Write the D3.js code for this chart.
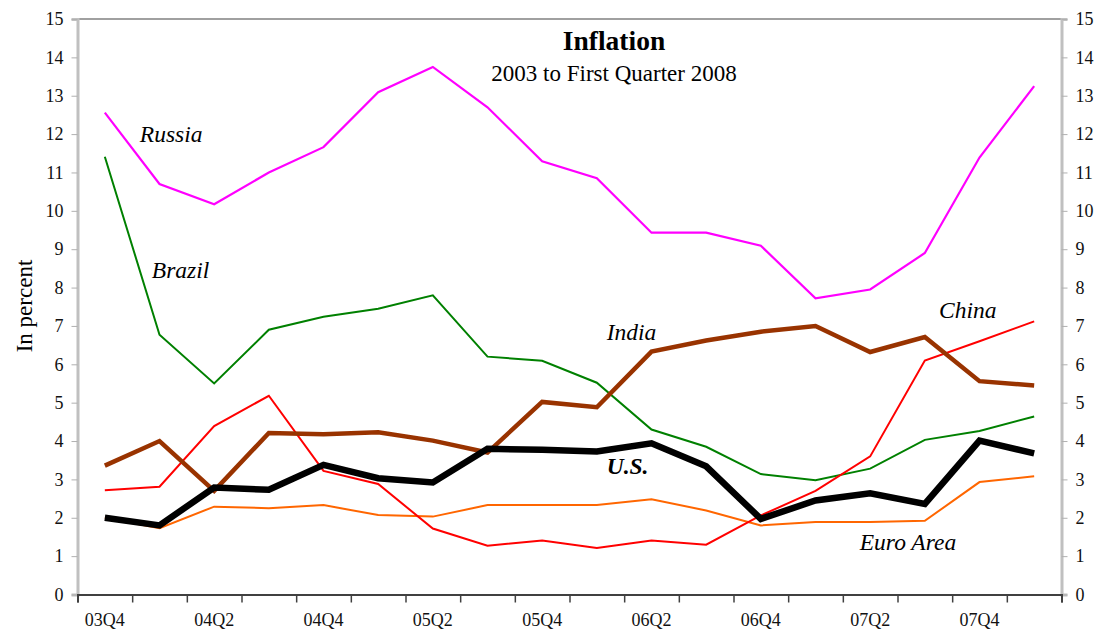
<!DOCTYPE html>
<html lang="en">
<head>
    <meta charset="UTF-8">
    <title>Inflation</title>
    <script src="https://d3js.org/d3.v7.min.js"></script>
    <style>
        body { margin: 0; background: #fff; }
    </style>
</head>
<body>
    <div id="chart"></div>
    <script>
        // quarters on the x axis
        var quarters = ["03Q4", "04Q1", "04Q2", "04Q3", "04Q4", "05Q1", "05Q2", "05Q3", "05Q4",
                        "06Q1", "06Q2", "06Q3", "06Q4", "07Q1", "07Q2", "07Q3", "07Q4", "08Q1"]
        var xLabels = ["03Q4", "04Q2", "04Q4", "05Q2", "05Q4", "06Q2", "06Q4", "07Q2", "07Q4"]
        var yTicks = d3.range(0, 16)

        // series, in percent
        var euroArea = [2.00, 1.73, 2.29, 2.25, 2.33, 2.07, 2.03, 2.33, 2.33, 2.33, 2.48, 2.19, 1.80, 1.89, 1.89, 1.92, 2.93, 3.08]
        var brazil = [11.41, 6.77, 5.50, 6.90, 7.24, 7.45, 7.80, 6.20, 6.09, 5.52, 4.30, 3.85, 3.14, 2.98, 3.28, 4.03, 4.26, 4.64]
        var china = [2.72, 2.81, 4.39, 5.18, 3.22, 2.88, 1.72, 1.27, 1.41, 1.21, 1.41, 1.30, 2.06, 2.70, 3.60, 6.10, 6.60, 7.12]
        var russia = [12.56, 10.70, 10.17, 11.00, 11.66, 13.09, 13.75, 12.70, 11.29, 10.85, 9.43, 9.43, 9.09, 7.72, 7.95, 8.90, 11.39, 13.25]
        var india = [3.36, 4.00, 2.70, 4.21, 4.18, 4.23, 4.01, 3.70, 5.02, 4.88, 6.33, 6.62, 6.85, 7.00, 6.32, 6.71, 5.56, 5.45]
        var us = [2.00, 1.80, 2.79, 2.73, 3.38, 3.03, 2.92, 3.80, 3.77, 3.73, 3.94, 3.34, 1.97, 2.45, 2.64, 2.36, 4.01, 3.68]

        var series = [
            { name: "Euro Area", values: euroArea, color: "#ff6600", width: 2 },
            { name: "Brazil", values: brazil, color: "#008000", width: 2 },
            { name: "China", values: china, color: "#ff0000", width: 2 },
            { name: "Russia", values: russia, color: "#ff00ff", width: 2.2 },
            { name: "India", values: india, color: "#993300", width: 4.5 },
            { name: "U.S.", values: us, color: "#000000", width: 6.5 }
        ]

        // label spots, in data units (quarter index from left edge, percent)
        var labels = [
            { text: "Russia", q: 1.14, v: 11.8, bold: false },
            { text: "Brazil", q: 1.36, v: 8.25, bold: false },
            { text: "India", q: 9.68, v: 6.63, bold: false },
            { text: "U.S.", q: 9.68, v: 3.14, bold: true },
            { text: "China", q: 15.76, v: 7.21, bold: false },
            { text: "Euro Area", q: 14.31, v: 1.16, bold: false }
        ]

        var serif = "'Liberation Serif', 'Times New Roman', Times, serif"

        var W = 1100, H = 631
        var margin = { top: 19, right: 38.5, bottom: 36.5, left: 77.5 },
            width = W - margin.left - margin.right,
            height = H - margin.top - margin.bottom

        var svg = d3.select("#chart")
            .append("svg")
            .attr("width", W)
            .attr("height", H)

        var g = svg.append("g")
            .attr("transform", "translate(" + margin.left + "," + margin.top + ")")

        var x = d3.scaleBand()
            .domain(quarters)
            .range([0, width])
            .padding(0)

        // index scale for the tick marks between quarters
        var xi = d3.scaleLinear()
            .domain([0, quarters.length])
            .range([0, width])

        var y = d3.scaleLinear()
            .domain([0, 15])
            .range([height, 0])

        // top border
        g.append("line")
            .attr("x1", 0).attr("x2", width)
            .attr("y1", 0).attr("y2", 0)
            .attr("stroke", "#a0a0a0")
            .attr("stroke-width", 2)

        // left axis
        var yLeft = g.append("g")
            .call(d3.axisLeft(y).tickValues(yTicks).tickSize(6).tickPadding(8))
        yLeft.select(".domain").attr("stroke", "#c0c0c0").attr("stroke-width", 3)
        yLeft.selectAll(".tick line").attr("stroke", "#b0b0b0")
        yLeft.selectAll("text").style("font-family", serif).style("font-size", "18px").attr("fill", "#111")

        // right axis
        var yRight = g.append("g")
            .attr("transform", "translate(" + width + ",0)")
            .call(d3.axisRight(y).tickValues(yTicks).tickSize(6).tickPadding(8))
        yRight.select(".domain").attr("stroke", "#c0c0c0").attr("stroke-width", 3)
        yRight.selectAll(".tick line").attr("stroke", "#b0b0b0")
        yRight.selectAll("text").style("font-family", serif).style("font-size", "18px").attr("fill", "#111")

        // bottom axis: marks between quarters
        var xTicks = g.append("g")
            .attr("transform", "translate(0," + height + ")")
            .call(d3.axisBottom(xi).tickValues(d3.range(0, quarters.length + 1)).tickSize(8).tickFormat(""))
        xTicks.select(".domain").attr("stroke", "#404040").attr("stroke-width", 2)
        xTicks.selectAll(".tick line").attr("stroke", "#404040").attr("stroke-width", 1.5)

        // bottom axis: labels centred on quarters
        var xLab = g.append("g")
            .attr("transform", "translate(0," + height + ")")
            .call(d3.axisBottom(x).tickValues(xLabels).tickSize(0).tickPadding(19))
        xLab.select(".domain").remove()
        xLab.selectAll("text").style("font-family", serif).style("font-size", "18px").attr("fill", "#111")

        var line = d3.line()
            .x(function (d, i) { return x(quarters[i]) + x.bandwidth() / 2 })
            .y(function (d) { return y(d) })

        g.selectAll("path.series")
            .data(series)
            .enter()
            .append("path")
            .attr("class", "series")
            .attr("d", function (d) { return line(d.values) })
            .attr("fill", "none")
            .attr("stroke", function (d) { return d.color })
            .attr("stroke-width", function (d) { return d.width })

        // series names
        g.selectAll("text.lbl")
            .data(labels)
            .enter()
            .append("text")
            .attr("class", "lbl")
            .attr("x", function (d) { return xi(d.q) })
            .attr("y", function (d) { return y(d.v) })
            .style("font-family", serif)
            .style("font-size", "23.5px")
            .style("font-style", "italic")
            .style("font-weight", function (d) { return d.bold ? "bold" : "normal" })
            .text(function (d) { return d.text })

        // title
        svg.append("text")
            .attr("x", 614)
            .attr("y", 50)
            .attr("text-anchor", "middle")
            .style("font-family", serif)
            .style("font-size", "27.5px")
            .style("font-weight", "bold")
            .text("Inflation")

        svg.append("text")
            .attr("x", 614)
            .attr("y", 80.5)
            .attr("text-anchor", "middle")
            .style("font-family", serif)
            .style("font-size", "23px")
            .text("2003 to First Quarter 2008")

        svg.append("text")
            .attr("transform", "translate(32,306) rotate(-90)")
            .attr("text-anchor", "middle")
            .style("font-family", serif)
            .style("font-size", "23px")
            .text("In percent")
    </script>
</body>
</html>
